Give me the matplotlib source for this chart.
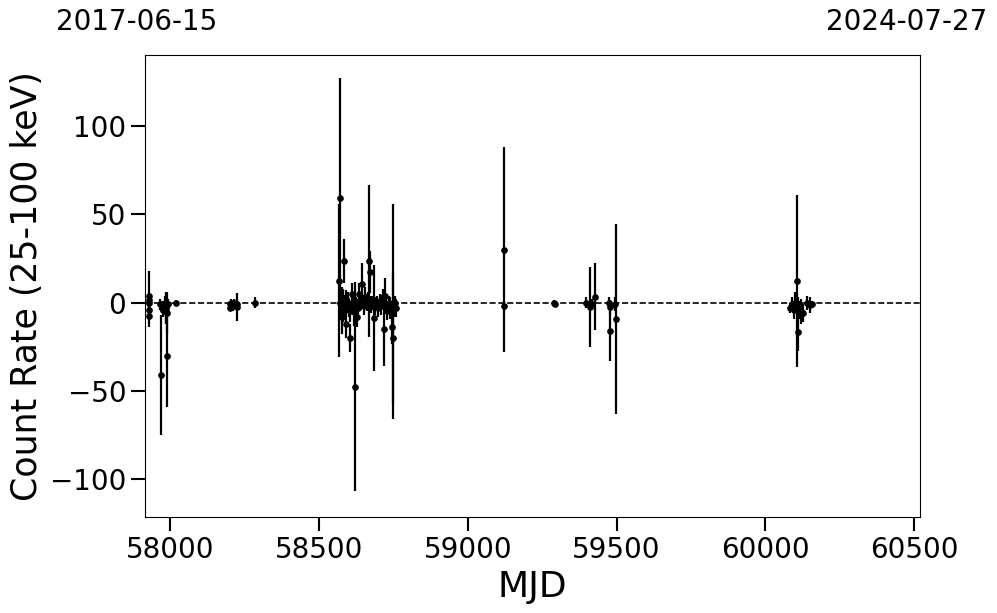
import matplotlib
matplotlib.use("Agg")
import matplotlib.pyplot as plt
import numpy as np

# Observation epochs (MJD), count rates and 1-sigma errors (25-100 keV)
mjd = [
    57928, 57929, 57929, 57930, 57931,
    57968, 57970, 57972, 57975, 57978, 57980, 57983, 57985, 57988, 57990, 57991, 57993, 58020,
    58200, 58203, 58206, 58210, 58215, 58224, 58226, 58285,
    58568, 58570, 58572, 58574, 58576, 58578, 58580, 58582, 58585, 58588, 58590, 58592,
    58595, 58598, 58600, 58603, 58605, 58610, 58612, 58615, 58618, 58621, 58624, 58628,
    58632, 58636, 58640, 58645, 58650, 58655, 58660, 58665, 58668, 58671, 58674, 58678,
    58685, 58690, 58695, 58700, 58705, 58710, 58715, 58720, 58722, 58726, 58730, 58735,
    58740, 58745, 58748, 58750, 58752, 58755, 58758,
    59122, 59123, 59290, 59292,
    59397, 59412, 59418, 59428, 59476, 59478, 59479, 59495, 59497,
    60083, 60090, 60095, 60100, 60103, 60107, 60108, 60110, 60115, 60120, 60125, 60140, 60150, 60155,
]
rate = [
    4, 1.5, 0, -4, -7.5,
    -1, -41, -3, -1, -4, -2, 0, -5, -3, -6, -30, -1, 0,
    -1, -3, 0, -2, 0, -2.5, -1, 0,
    12.5, 59, 0, -3, 3, -8, 0, -5, 23.5, -3, -12, 2,
    -1, 0, -3, -20, -5, 5, 0, -2, -5, -47.5, -1, -8,
    -3, 5, 0, 10.5, -2, 3, 0, 2, 23.5, 17.5, -1, 0,
    -8.5, -2, 0, -3, 1, -2, 3, -15, 3.8, -1, -5, 0,
    -3, -13.5, -5, -20, -2, 0, -3,
    30, -1.7, 0, -1,
    0, -2.5, -1, 3.4, 0, -16, -2.5, -1, -9.3,
    -3, -1, -4, 0, -2, 12.3, -16.4, -3, -4, -5, -6, 0, -1.3, -1,
]
err = [
    14, 3, 3, 4, 6,
    3, 34, 3, 2, 4, 3, 4, 7, 9, 12, 29, 3, 1.5,
    2, 2, 2, 3, 2, 8, 3, 3,
    43.5, 68, 5, 4, 6, 10, 8, 6, 12.5, 7, 8, 5,
    4, 6, 5, 8, 6, 6, 4, 5, 8, 59, 4, 6,
    5, 6, 4, 12, 5, 6, 5, 4, 43, 12, 5, 4,
    30, 5, 4, 5, 4, 5, 5, 21, 10, 4, 5, 4,
    6, 10, 61, 37, 6, 4, 5,
    58, 2, 1.5, 1.5,
    3, 22.5, 3, 19, 3, 17, 4, 4, 54,
    3, 4, 5, 6, 4, 48.5, 11, 6, 5, 7, 5, 4, 4.7, 2,
]

start_label = "2017-06-15"
end_label = "2024-07-27"
x_range = (57916, 60520)
y_range = (-121.5, 140.2)

fig = plt.figure(figsize=(9.97, 6.13), dpi=100)
ax = fig.add_axes([145 / 997, 1 - 517.3 / 613, (920.3 - 145) / 997, (517.3 - 55) / 613])

ax.axhline(0, color="black", ls="--", lw=1.2, zorder=1)
ax.errorbar(mjd, rate, yerr=err, fmt="o", color="black", ms=3.8, elinewidth=1.6,
            capsize=0, zorder=3)

ax.set_xlim(*x_range)
ax.set_ylim(*y_range)
ax.set_xticks([58000, 58500, 59000, 59500, 60000, 60500])
ax.set_yticks([-100, -50, 0, 50, 100])
ax.tick_params(axis="both", which="major", labelsize=20, length=10, width=1.5)
ax.set_xlabel("MJD", fontsize=26)
ax.set_ylabel("Count Rate (25-100 keV)", fontsize=25, labelpad=4)

fig.text(136.5 / 997, 1 - 22 / 613, start_label, fontsize=20, ha="center", va="center")
fig.text(907 / 997, 1 - 22 / 613, end_label, fontsize=20, ha="center", va="center")

fig.savefig("out.png", dpi=100)
